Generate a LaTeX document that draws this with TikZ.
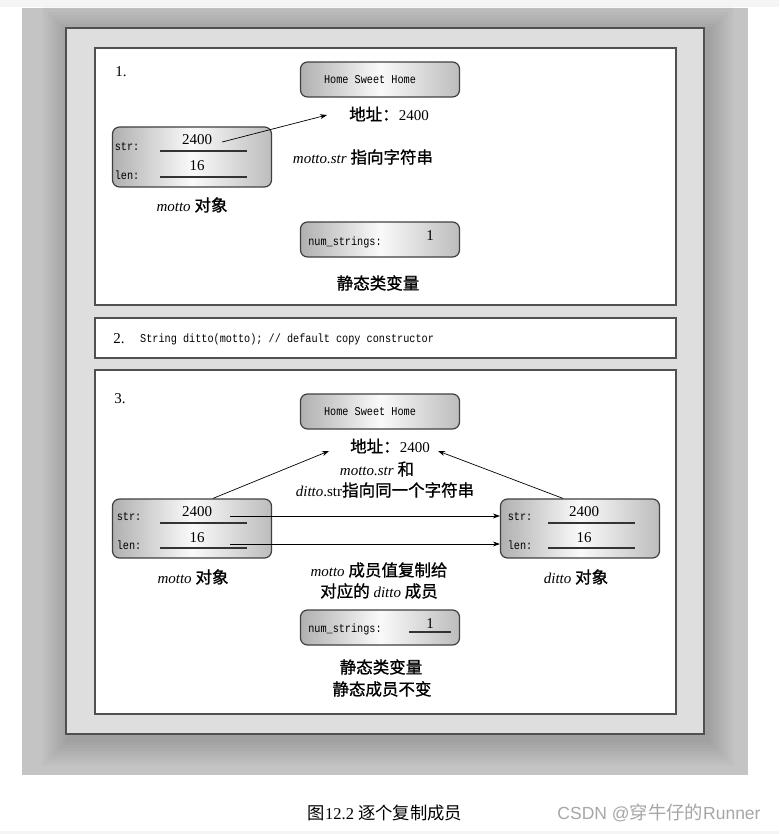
\documentclass[tikz,border=0pt]{standalone}
\usepackage{fontspec}
\setmainfont{Liberation Serif}
\setsansfont{Liberation Sans}
\setmonofont[FakeStretch=0.85]{Liberation Mono}
\newfontfamily\cjk[Scale=1.1,FakeBold=1]{Noto Sans CJK SC}
\newfontfamily\cjkplain[Scale=1.05]{Noto Sans CJK SC}
\newcommand\zh[1]{{\cjk #1}}
\usetikzlibrary{arrows.meta}
\definecolor{outergray}{RGB}{196,196,196}
\definecolor{framegray}{RGB}{222,222,222}
\definecolor{bordergray}{RGB}{80,80,80}
\tikzset{
  lab/.style={font=\fontsize{15}{18}\selectfont, inner sep=0pt, align=center},
  mono/.style={font=\ttfamily\fontsize{12}{14}\selectfont, inner sep=0pt},
  panel/.style={draw=bordergray, line width=1.5pt, fill=white},
  obox/.style={draw=black!75, line width=1.2pt, rounded corners=7pt,
    left color=gray!62, right color=gray!52, middle color=gray!4,
    minimum width=159pt, inner sep=0pt},
  uline/.style={draw=black!80, line width=1.1pt},
  arr/.style={draw=black, line width=0.7pt, -{Stealth[length=7pt,width=5pt]}},
}
\begin{document}
\begin{tikzpicture}[x=1pt,y=-1pt]
\useasboundingbox (0,0) rectangle (779,834);
% backgrounds
\fill[gray!8] (0,0) rectangle (779,7);
\fill[gray!8] (0,831) rectangle (779,834);
\fill[outergray] (22,8) rectangle (748,775);
\foreach \i in {1,...,9}{
  \fill[black, opacity=0.02] ({66-\i*3+3},{28-\i*3+5}) rectangle ({704+\i*3+3},{734+\i*3+5});
}
\draw[draw=bordergray, line width=1.8pt, fill=framegray] (66,28) rectangle (704,734);
\draw[panel] (95,48) rectangle (676,305);
\draw[panel] (95,318) rectangle (676,358);
\draw[panel] (95,370) rectangle (676,714);

% ---------- panel 1 ----------
\node[lab] (n1) at (121,72) {1.};
\node[obox, minimum height=35pt] (home1) at (380,79.5) {};
\node[mono] (ht1) at (370,80) {Home Sweet Home};
\node[lab] (addr1) at (389,114) {\zh{地址：}2400};
\node[obox, minimum height=60pt] (motto1) at (192,157) {};
\node[mono] (s1) at (127,147) {str:};
\node[mono] (l1) at (127,175) {len:};
\node[lab] (v1) at (197,140) {2400};
\node[lab] (w1) at (197,166) {16};
\draw[uline] (160,151) -- (247,151);
\draw[uline] (160,177) -- (247,177);
\coordinate (t1) at (327,115);
\draw[arr] ([xshift=10pt,yshift=-2pt]v1.east) -- (t1);
\node[lab] (c1) at (363,157) {\textit{motto.str} \zh{指向字符串}};
\node[lab] (m1) at (192,205) {\textit{motto} \zh{对象}};
\node[obox, minimum height=35pt] (num1) at (380,239.5) {};
\node[mono] (ns1) at (345,242) {num\_strings:};
\node[lab] (one1) at (430,236) {1};
\node[lab] (sv1) at (378,283) {\zh{静态类变量}};

% ---------- panel 2 ----------
\node[lab] (n2) at (119,339) {2.};
\node[mono, anchor=west] (code) at (140,339) {String ditto(motto); // default copy constructor};

% ---------- panel 3 ----------
\node[lab] (n3) at (120,399) {3.};
\node[obox, minimum height=35pt] (home3) at (380,411.5) {};
\node[mono] (ht3) at (370,412) {Home Sweet Home};
\node[lab] (addr3) at (390,446) {\zh{地址：}2400};
\node[lab] (c3a) at (377,469) {\textit{motto.str} \zh{和}};
\node[lab] (c3b) at (385,490) {\textit{ditto}.str\zh{指向同一个字符串}};
% motto object
\node[obox, minimum height=59pt] (motto3) at (192,528.5) {};
\node[mono] (s3) at (129,517) {str:};
\node[mono] (l3) at (129,545) {len:};
\node[lab] (v3) at (197,512) {2400};
\node[lab] (w3) at (197,538) {16};
\draw[uline] (160,523) -- (247,523);
\draw[uline] (160,548) -- (247,548);
% ditto object
\node[obox, minimum height=59pt] (ditto3) at (580,528.5) {};
\node[mono] (ds3) at (520,517) {str:};
\node[mono] (dl3) at (520,545) {len:};
\node[lab] (dv3) at (584,512) {2400};
\node[lab] (dw3) at (584,538) {16};
\draw[uline] (548,523) -- (635,523);
\draw[uline] (548,548) -- (635,548);
% arrows
\coordinate (ta) at (329,451);
\coordinate (tb) at (438,451);
\draw[arr] ([xshift=21pt]motto3.north) -- (ta);
\draw[arr] ([xshift=-17pt]ditto3.north) -- (tb);
\coordinate (hs1) at (230,516);
\coordinate (hs2) at (230,544);
\draw[arr] (hs1) -- (hs1 -| ditto3.west);
\draw[arr] (hs2) -- (hs2 -| ditto3.west);
\node[lab] (m3) at (193,577) {\textit{motto} \zh{对象}};
\node[lab] (d3) at (576,577) {\textit{ditto} \zh{对象}};
\node[lab] (cp1) at (379,570) {\textit{motto} \zh{成员值复制给}};
\node[lab] (cp2) at (379,591) {\zh{对应的} \textit{ditto} \zh{成员}};
\node[obox, minimum height=35pt] (num3) at (380,627.5) {};
\node[mono] (ns3) at (345,629) {num\_strings:};
\node[lab] (one3) at (430,624) {1};
\draw[uline] (409,632) -- (451,632);
\node[lab] (sv3) at (381,667) {\zh{静态类变量}};
\node[lab] (sv3b) at (382,689) {\zh{静态成员不变}};

% caption
\node[font=\fontsize{16.5}{19}\selectfont, inner sep=0pt] (cap) at (385,813) {{\cjkplain 图}12.2 {\cjkplain 逐个复制成员}};
\node[font=\sffamily\fontsize{17.5}{20}\selectfont, text=gray!70, inner sep=0pt] (wm) at (659,813) {CSDN @{\cjkplain 穿牛仔的}Runner};
\end{tikzpicture}
\end{document}
